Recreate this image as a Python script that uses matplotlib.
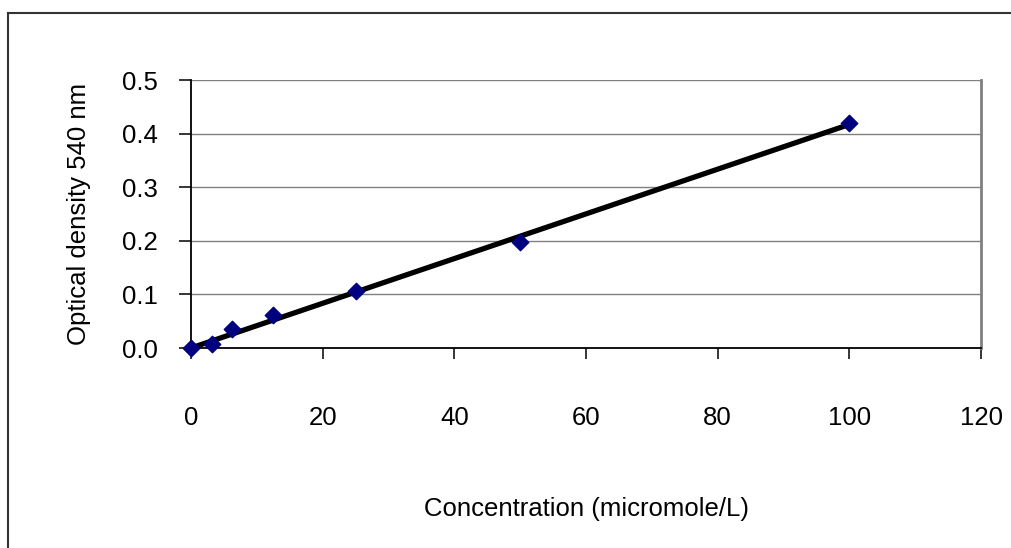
import matplotlib.pyplot as plt
import numpy as np
from matplotlib.lines import Line2D

plt.rcParams['font.family'] = ['Liberation Sans', 'DejaVu Sans']

# Data
concentration = [0, 3.125, 6.25, 12.5, 25, 50, 100]
optical_density = [0.0, 0.007, 0.035, 0.062, 0.107, 0.198, 0.42]
x_ticks = [0, 20, 40, 60, 80, 100, 120]
y_ticks = [0.0, 0.1, 0.2, 0.3, 0.4, 0.5]

# Linear trendline through the origin
x = np.array(concentration)
y = np.array(optical_density)
slope = np.sum(x * y) / np.sum(x * x)

fig = plt.figure(figsize=(10.11, 5.48), dpi=100)
ax = fig.add_axes([191 / 1011, 1 - 348 / 548, 790 / 1011, 268 / 548])

for yt in y_ticks[1:]:
    ax.axhline(yt, color='#808080', lw=1.0, zorder=1)

ax.plot([x.min(), x.max()], [0, slope * x.max()], color='black', lw=3.8, zorder=3,
        solid_capstyle='butt')
ax.scatter(concentration, optical_density, marker='D', s=70, color='#000080', zorder=4,
           clip_on=False)

ax.set_xlim(0, 120)
ax.set_ylim(0, 0.5)
ax.set_xticks(x_ticks)
ax.set_yticks(y_ticks)
ax.set_yticklabels([f'{v:.1f}' for v in y_ticks])

ax.spines['top'].set_visible(False)
ax.spines['right'].set_color('#808080')
ax.spines['right'].set_linewidth(2)
ax.spines['left'].set_linewidth(1.3)
ax.spines['bottom'].set_linewidth(1.3)

ax.tick_params(axis='x', direction='out', length=8, width=1.1, labelsize=18.5, pad=34)
ax.tick_params(axis='y', direction='out', length=9, width=1.1, labelsize=18.5, pad=15)

ax.set_xlabel('Concentration (micromole/L)', fontsize=18.5, labelpad=48)
ax.set_ylabel('Optical density 540 nm', fontsize=18.5, labelpad=22)

# Outer chart border (top and left visible)
fig.add_artist(Line2D([8 / 1011, 8 / 1011], [0, 1 - 13 / 548], color='#333333', lw=1.5,
                      transform=fig.transFigure))
fig.add_artist(Line2D([8 / 1011, 1], [1 - 13 / 548, 1 - 13 / 548], color='#333333', lw=1.5,
                      transform=fig.transFigure))

fig.savefig('out.png', dpi=100)
